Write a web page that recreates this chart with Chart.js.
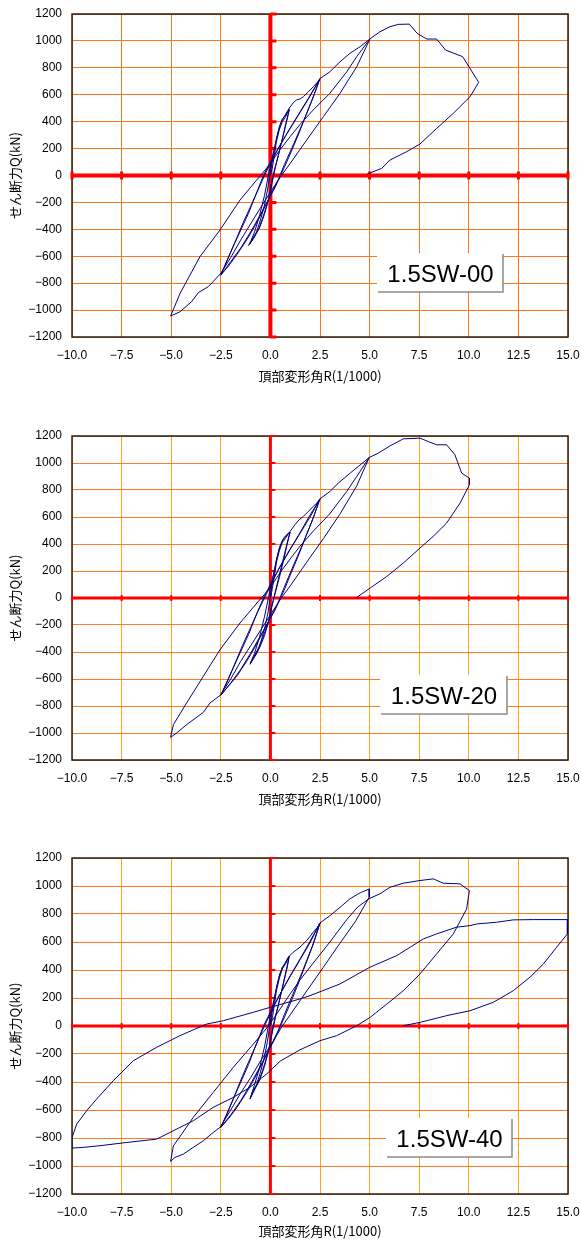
<!DOCTYPE html>
<html>
<head>
<meta charset="utf-8">
<script src="https://cdn.jsdelivr.net/npm/chart.js@4.4.0/dist/chart.umd.min.js"></script>
<style>
  body { margin: 0; background: #fff; width: 581px; height: 1243px; overflow: hidden; position: relative; }
  canvas { position: absolute; left: 0; }
</style>
</head>
<body>
<canvas id="chart00" width="581" height="388" style="top:0px"></canvas>
<canvas id="chart20" width="581" height="391" style="top:420px"></canvas>
<canvas id="chart40" width="581" height="403" style="top:840px"></canvas>
<script>
// specimen names
var specimens = ['1.5SW-00', '1.5SW-20', '1.5SW-40'];

// ---- 1.5SW-00 : [R (1/1000), Q (kN)] ----
var sw00Small = [
  [0, 0], [0.1, 60], [0.2, 150], [0.3, 250], [0.45, 340], [0.6, 400], [0.75, 430], [0.85, 470], [0.95, 490],
  [0.8, 400], [0.6, 270], [0.4, 150], [0.2, 40], [0.05, -60], [-0.05, -150], [-0.2, -230], [-0.4, -320], [-0.6, -400], [-0.85, -470], [-1.1, -520],
  [-0.9, -470], [-0.7, -420], [-0.5, -330], [-0.3, -220], [-0.15, -110], [0, 30], [0.15, 150], [0.3, 270], [0.45, 360], [0.6, 420], [0.8, 450], [0.95, 490],
  [0.85, 420], [0.65, 300], [0.45, 180], [0.25, 60], [0.05, -80], [-0.1, -180], [-0.3, -290], [-0.55, -390], [-0.8, -450], [-1.05, -510]
];
var sw00Cyc25 = [
  [-0.8, -420], [-0.55, -300], [-0.3, -150], [-0.1, 0], [0.05, 110], [0.2, 200], [0.35, 300], [0.5, 380], [0.7, 440], [0.95, 500], [1.15, 540], [1.3, 560], [1.5, 570], [1.66, 585], [1.9, 620], [2.16, 660], [2.35, 690], [2.5, 720],
  [2.2, 600], [1.8, 450], [1.4, 300], [1.0, 160], [0.7, 60], [0.45, -20], [0.2, -100], [0, -150], [-0.4, -270], [-0.8, -380], [-1.2, -480], [-1.7, -590], [-2.1, -670], [-2.5, -740],
  [-2.2, -640], [-1.8, -500], [-1.4, -360], [-1.0, -230], [-0.6, -100], [-0.3, 0], [0, 90], [0.4, 200], [0.9, 330], [1.4, 450], [1.9, 570], [2.5, 720],
  [2.1, 560], [1.6, 380], [1.1, 210], [0.7, 80], [0.4, -30], [0, -150], [-0.5, -290], [-1.0, -420], [-1.5, -540], [-2.0, -640], [-2.5, -740],
  [-2.1, -600], [-1.6, -440], [-1.1, -280], [-0.7, -130], [-0.35, 0], [0, 100], [0.5, 230], [1.0, 350], [1.5, 470], [2.0, 590], [2.5, 720]
];
var sw00Cyc50 = [
  [3.0, 771], [3.51, 845], [4.01, 908], [4.52, 957], [5.02, 1015],
  [4.35, 808], [3.51, 611], [2.67, 437], [1.83, 264], [1.0, 90], [0.55, 0], [0, -125], [-0.5, -240], [-1.0, -360], [-1.5, -480], [-2.0, -610], [-2.53, -733],
  [-3.13, -826], [-3.63, -870], [-3.97, -937], [-4.55, -1012], [-5.03, -1044],
  [-4.55, -875], [-3.55, -603], [-2.54, -405], [-1.53, -182], [-0.69, -33], [-0.49, 0], [0, 90], [0.48, 190], [1.0, 290], [1.5, 380], [2.16, 487], [3.0, 611], [3.85, 771], [4.35, 883], [5.02, 1015]
];
var sw00Last = [
  [5.52, 1068], [6.03, 1106], [6.45, 1123], [7.0, 1125], [7.4, 1056], [7.88, 1014], [8.38, 1014], [8.83, 932], [9.69, 883], [10.5, 692],
  [10.06, 585], [9.22, 462], [8.38, 350], [7.54, 234], [6.87, 177], [6.03, 115], [5.61, 53], [4.88, 11]
];

// ---- 1.5SW-20 ----
var sw20Small = [
  [0, 0], [0.1, 70], [0.2, 160], [0.3, 260], [0.45, 350], [0.6, 410], [0.75, 440], [0.88, 470], [0.99, 488],
  [0.85, 400], [0.65, 270], [0.45, 150], [0.25, 40], [0.05, -70], [-0.05, -150], [-0.2, -220], [-0.4, -300], [-0.6, -370], [-0.85, -440], [-1.03, -491],
  [-0.85, -450], [-0.65, -400], [-0.45, -310], [-0.25, -200], [-0.1, -90], [0.02, 40], [0.15, 160], [0.3, 280], [0.45, 370], [0.62, 430], [0.8, 460], [0.99, 488],
  [0.85, 410], [0.65, 290], [0.45, 170], [0.25, 50], [0.05, -80], [-0.1, -180], [-0.3, -280], [-0.55, -370], [-0.8, -430], [-1.0, -480]
];
var sw20Cyc25 = [
  [-0.8, -410], [-0.55, -290], [-0.3, -140], [-0.1, 0], [0.05, 110], [0.2, 210], [0.35, 310], [0.5, 390], [0.7, 450], [0.99, 493], [1.24, 543], [1.45, 580], [1.66, 604], [1.9, 640], [2.16, 678], [2.35, 705], [2.5, 735],
  [2.2, 610], [1.8, 460], [1.4, 310], [1.0, 170], [0.7, 60], [0.45, -20], [0.2, -100], [0, -150], [-0.4, -260], [-0.8, -370], [-1.2, -470], [-1.7, -580], [-2.1, -650], [-2.5, -720],
  [-2.2, -630], [-1.8, -490], [-1.4, -350], [-1.0, -220], [-0.6, -90], [-0.3, 0], [0, 90], [0.4, 210], [0.9, 340], [1.4, 460], [1.9, 590], [2.5, 735],
  [2.1, 570], [1.6, 390], [1.1, 220], [0.7, 80], [0.4, -30], [0, -150], [-0.5, -280], [-1.0, -410], [-1.5, -530], [-2.0, -630], [-2.5, -720],
  [-2.1, -590], [-1.6, -430], [-1.1, -270], [-0.7, -120], [-0.35, 0], [0, 100], [0.5, 235], [1.0, 360], [1.5, 480], [2.0, 600], [2.5, 735]
];
var sw20Cyc50 = [
  [3.0, 789], [3.42, 851], [4.02, 925], [4.43, 974], [4.98, 1041],
  [4.35, 830], [3.5, 620], [2.67, 440], [1.83, 265], [1.0, 90], [0.55, 0], [0, -125], [-0.5, -240], [-1.0, -355], [-1.5, -470], [-2.0, -600], [-2.53, -721],
  [-3.04, -777], [-3.38, -847], [-4.22, -938], [-4.72, -999], [-5.03, -1032],
  [-4.89, -938], [-4.22, -777], [-3.38, -580], [-2.54, -383], [-1.53, -185], [-0.61, -25], [-0.45, 0], [0, 80], [0.5, 190], [1.0, 290], [1.5, 385], [2.16, 495], [3.0, 625], [3.85, 790], [4.35, 900], [4.98, 1041]
];
var sw20Last = [
  [5.44, 1073], [6.03, 1127], [6.7, 1179], [7.54, 1184], [7.96, 1159], [8.38, 1135], [8.88, 1135], [9.3, 1061], [9.64, 925], [10.03, 888], [10.03, 839],
  [9.56, 703], [8.88, 555], [8.2, 456], [7.54, 370], [6.7, 259], [5.87, 160], [5.03, 74], [4.31, 0]
];

// ---- 1.5SW-40 ----
var sw40Small = [
  [0, 0], [0.1, 60], [0.2, 150], [0.3, 250], [0.45, 340], [0.6, 410], [0.75, 440], [0.85, 475], [0.95, 498],
  [0.8, 400], [0.6, 270], [0.4, 150], [0.2, 40], [0.05, -60], [-0.05, -150], [-0.2, -230], [-0.4, -320], [-0.6, -400], [-0.85, -470], [-1.03, -522],
  [-0.9, -470], [-0.7, -420], [-0.5, -330], [-0.3, -220], [-0.15, -110], [0, 30], [0.15, 150], [0.3, 270], [0.45, 360], [0.6, 420], [0.8, 455], [0.95, 498],
  [0.85, 420], [0.65, 300], [0.45, 180], [0.25, 60], [0.05, -80], [-0.1, -180], [-0.3, -290], [-0.55, -390], [-0.8, -450], [-1.0, -510]
];
var sw40Cyc25 = [
  [-0.8, -420], [-0.55, -300], [-0.3, -150], [-0.1, 0], [0.05, 110], [0.2, 200], [0.35, 300], [0.5, 380], [0.7, 440], [0.9, 491], [1.15, 527], [1.49, 563], [1.83, 610], [2.16, 670], [2.35, 700], [2.5, 736],
  [2.2, 600], [1.8, 450], [1.4, 300], [1.0, 160], [0.7, 60], [0.45, -20], [0.2, -100], [0, -150], [-0.4, -265], [-0.8, -375], [-1.2, -475], [-1.7, -585], [-2.1, -660], [-2.5, -724],
  [-2.2, -635], [-1.8, -495], [-1.4, -355], [-1.0, -225], [-0.6, -95], [-0.3, 0], [0, 90], [0.4, 205], [0.9, 335], [1.4, 455], [1.9, 580], [2.5, 736],
  [2.1, 565], [1.6, 385], [1.1, 215], [0.7, 80], [0.4, -30], [0, -150], [-0.5, -285], [-1.0, -415], [-1.5, -535], [-2.0, -635], [-2.5, -724],
  [-2.1, -595], [-1.6, -435], [-1.1, -275], [-0.7, -125], [-0.35, 0], [0, 100], [0.5, 230], [1.0, 355], [1.5, 475], [2.0, 595], [2.5, 736]
];
var sw40Cyc50 = [
  [3.0, 788], [3.51, 848], [4.01, 908], [4.43, 944], [4.6, 956], [4.98, 979], [4.98, 920],
  [4.3, 750], [3.5, 590], [2.67, 420], [1.83, 250], [1.0, 80], [0.6, 0], [0, -140], [-0.5, -250], [-1.0, -370], [-1.5, -480], [-2.0, -600], [-2.54, -724],
  [-2.88, -760], [-3.38, -820], [-3.89, -867], [-4.39, -915], [-4.81, -939], [-5.03, -967],
  [-4.89, -856], [-4.47, -772], [-3.89, -653], [-2.88, -474], [-1.87, -295], [-0.86, -129], [-0.36, -45], [-0.1, 0], [0.32, 86], [1.0, 230], [1.5, 330], [2.16, 450], [3.0, 600], [3.85, 760], [4.4, 850], [4.98, 910]
];
var sw40Cyc100 = [
  [5.52, 944], [6.03, 991], [6.7, 1020], [7.54, 1039], [8.21, 1051], [8.71, 1020], [9.56, 1015], [10.03, 967], [9.89, 836],
  [9.22, 658], [8.38, 515], [7.54, 372], [6.7, 252], [5.87, 157], [5.03, 62], [4.35, 2], [3.34, -69], [2.5, -105], [1.49, -170], [0.5, -250],
  [-0.19, -343], [-1.03, -438], [-1.87, -510], [-2.88, -581], [-3.89, -677], [-5.06, -760], [-5.73, -808], [-7.24, -832], [-8.59, -855], [-9.43, -867], [-10.0, -872]
];
var sw40Last = [
  [-10.0, -796], [-9.76, -700], [-9.26, -605], [-8.76, -522], [-7.92, -391], [-6.91, -248], [-5.73, -152], [-4.56, -69], [-3.21, 14], [-2.37, 38], [-0.86, 98],
  [0.15, 140], [1.49, 193], [2.0, 217], [3.5, 300], [5.02, 420], [6.37, 503], [7.71, 622], [8.38, 658], [9.39, 706], [10.06, 717], [10.4, 729], [11.4, 741], [12.24, 758], [13.25, 760], [14.97, 760],
  [14.97, 658], [14.43, 563], [13.76, 443], [13.08, 348], [12.24, 252], [11.23, 169], [10.06, 109], [8.89, 74], [7.54, 26], [6.7, 2]
];

var loops = [
  sw00Small.concat(sw00Cyc25, sw00Cyc50, sw00Last),
  sw20Small.concat(sw20Cyc25, sw20Cyc50, sw20Last),
  sw40Small.concat(sw40Cyc25, sw40Cyc50, sw40Cyc100, sw40Last)
];

function minus(s) {
  return String(s).replace('-', '\u2212');
}

// red zero axes, plot frame and specimen name box
var framePlugin = {
  id: 'frame',
  beforeDatasetsDraw: function (chart, args, opts) {
    var ctx = chart.ctx;
    var a = chart.chartArea;
    var xs = chart.scales.x, ys = chart.scales.y;
    var x0 = xs.getPixelForValue(0), y0 = ys.getPixelForValue(0);
    ctx.save();
    ctx.strokeStyle = '#2b2016';
    ctx.lineWidth = 1.5;
    ctx.strokeRect(a.left, a.top, a.right - a.left, a.bottom - a.top);

    ctx.strokeStyle = '#ff0000';
    ctx.lineWidth = opts.axisWidth;
    ctx.beginPath();
    ctx.moveTo(a.left, y0); ctx.lineTo(a.right, y0);
    ctx.moveTo(x0, a.top); ctx.lineTo(x0, a.bottom);
    ctx.stroke();

    ctx.lineWidth = opts.markWidth;
    ctx.beginPath();
    xs.ticks.forEach(function (t) {
      var px = xs.getPixelForValue(t.value);
      ctx.moveTo(px, y0 - opts.markLen); ctx.lineTo(px, y0 + opts.markLen);
    });
    ys.ticks.forEach(function (t) {
      var py = ys.getPixelForValue(t.value);
      ctx.moveTo(x0, py); ctx.lineTo(x0 + opts.markLen + 2, py);
    });
    ctx.stroke();
    ctx.restore();
  },
  afterDatasetsDraw: function (chart, args, opts) {
    var ctx = chart.ctx;
    var a = chart.chartArea;
    var bx = a.left + opts.box[0], by = a.top + opts.box[1], bw = opts.box[2], bh = opts.box[3];
    ctx.save();
    ctx.fillStyle = '#ffffff';
    ctx.fillRect(bx - 1, by - 1, bw + 1, bh + 1);
    ctx.strokeStyle = '#8a8a8a';
    ctx.lineWidth = 1.5;
    ctx.beginPath();
    ctx.moveTo(bx + bw, by); ctx.lineTo(bx + bw, by + bh); ctx.lineTo(bx, by + bh);
    ctx.stroke();
    ctx.fillStyle = '#000';
    ctx.font = '24px "Liberation Sans", Arial, sans-serif';
    ctx.textAlign = 'center';
    ctx.textBaseline = 'middle';
    ctx.fillText(opts.name, bx + bw / 2, by + bh / 2 + 2);
    ctx.restore();
  }
};

var tickFont = { family: '"Liberation Sans", Arial, sans-serif', size: 12 };
var titleFont = { family: '"Noto Sans CJK JP", sans-serif', size: 13 };

function makeChart(id, idx, style) {
  var ctx = document.getElementById(id).getContext('2d');
  return new Chart(ctx, {
    type: 'scatter',
    data: {
      datasets: [{
        label: specimens[idx],
        data: loops[idx].map(function (p) { return { x: p[0], y: p[1] }; }),
        showLine: true,
        borderColor: '#000080',
        borderWidth: 1,
        pointRadius: 0,
        tension: 0,
        fill: false
      }]
    },
    options: {
      responsive: false,
      animation: false,
      layout: { padding: { left: 3, right: 13, top: style.top, bottom: 0 } },
      plugins: {
        legend: { display: false },
        tooltip: { enabled: false },
        frame: {
          name: specimens[idx],
          box: style.box,
          axisWidth: style.axisWidth,
          markWidth: style.markWidth,
          markLen: style.markLen
        }
      },
      scales: {
        x: {
          type: 'linear',
          min: -10,
          max: 15,
          ticks: {
            stepSize: 2.5,
            padding: 11,
            color: '#000',
            font: tickFont,
            maxRotation: 0,
            autoSkip: false,
            callback: function (v) { return minus(Number(v).toFixed(1)); }
          },
          grid: { color: style.xGrid, lineWidth: 1, drawTicks: false },
          border: { display: false },
          title: { display: true, text: '頂部変形角R(1/1000)', color: '#000', font: titleFont, padding: { top: 4, bottom: 4 } },
          afterFit: function (s) {
            s.height = style.xHeight;
            s.paddingLeft = 0;
            s.paddingRight = 0;
          }
        },
        y: {
          min: -1200,
          max: 1200,
          ticks: {
            stepSize: 200,
            padding: 10,
            color: '#000',
            font: tickFont,
            callback: function (v) { return minus(v); }
          },
          grid: { color: style.yGrid, lineWidth: 1, drawTicks: false },
          border: { display: false },
          title: { display: true, text: 'せん断力Q(kN)', color: '#000', font: titleFont, padding: { top: 4, bottom: 4 } },
          afterFit: function (s) {
            s.width = 69;
            s.paddingTop = 0;
            s.paddingBottom = 0;
          }
        }
      }
    },
    plugins: [framePlugin]
  });
}

window.onload = function () {
  makeChart('chart00', 0, { top: 14, xHeight: 51, box: [306, 240, 125, 38], axisWidth: 4, markWidth: 3, markLen: 4, xGrid: '#ff7518', yGrid: '#ff7518' });
  makeChart('chart20', 1, { top: 16, xHeight: 51, box: [309, 240, 126, 38], axisWidth: 3, markWidth: 2, markLen: 3, xGrid: '#ffa31a', yGrid: '#ff7a1f' });
  makeChart('chart40', 2, { top: 18, xHeight: 49, box: [315, 261, 125, 38], axisWidth: 3, markWidth: 2, markLen: 3, xGrid: '#ffa31a', yGrid: '#ff7a1f' });
};
</script>
</body>
</html>
